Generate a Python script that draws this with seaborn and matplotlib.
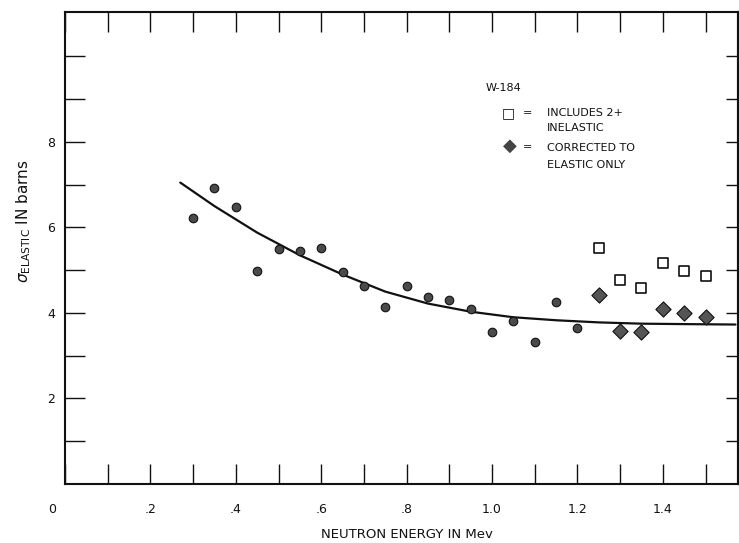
import numpy as np
import pandas as pd
import matplotlib
matplotlib.use("Agg")
import matplotlib.pyplot as plt
import seaborn as sns
from matplotlib.transforms import ScaledTranslation

# ---- data ----
energy_circ = [0.30, 0.35, 0.40, 0.45, 0.50, 0.55, 0.60, 0.65, 0.70, 0.75,
               0.80, 0.85, 0.90, 0.95, 1.00, 1.05, 1.10, 1.15, 1.20]
sigma_circ = [6.22, 6.92, 6.47, 4.99, 5.50, 5.46, 5.51, 4.95, 4.63, 4.15,
              4.62, 4.38, 4.30, 4.09, 3.56, 3.81, 3.31, 4.25, 3.65]

energy_incl = [1.25, 1.30, 1.35, 1.40, 1.45, 1.50]
sigma_incl = [5.53, 4.76, 4.58, 5.16, 4.98, 4.86]

energy_corr = [1.25, 1.30, 1.35, 1.40, 1.45, 1.50]
sigma_corr = [4.42, 3.58, 3.56, 4.10, 4.01, 3.91]

curve_x = [0.27, 0.35, 0.45, 0.55, 0.65, 0.75, 0.85, 0.95, 1.05, 1.15,
           1.25, 1.35, 1.45, 1.57]
curve_y = [7.05, 6.50, 5.88, 5.35, 4.90, 4.50, 4.22, 4.03, 3.90, 3.83,
           3.78, 3.75, 3.74, 3.73]

x_major = [0, 0.2, 0.4, 0.6, 0.8, 1.0, 1.2, 1.4]
x_labels = ["0", ".2", ".4", ".6", ".8", "1.0", "1.2", "1.4"]
x_minor = [0.1, 0.3, 0.5, 0.7, 0.9, 1.1, 1.3, 1.5]
y_major = [2, 4, 6, 8]
y_labels = ["2", "4", "6", "8"]
y_minor = [1, 3, 5, 7, 9, 10]
y_right = [1, 2, 3, 4, 5, 6, 7, 8, 9, 10]

sns.set_style("white")
plt.rcParams["font.family"] = ["DejaVu Sans"]

W, H = 739, 543
fig = plt.figure(figsize=(W / 100, H / 100), dpi=100)
ax = fig.add_axes([65 / W, 1 - 484 / H, (738 - 65) / W, (484 - 12) / H])

df_circ = pd.DataFrame({"E": energy_circ, "S": sigma_circ})
df_incl = pd.DataFrame({"E": energy_incl, "S": sigma_incl})
df_corr = pd.DataFrame({"E": energy_corr, "S": sigma_corr})
df_curve = pd.DataFrame({"E": curve_x, "S": curve_y})

sns.lineplot(data=df_curve, x="E", y="S", ax=ax, color="#111111",
             linewidth=1.6, sort=False, estimator=None, zorder=2)
sns.scatterplot(data=df_circ, x="E", y="S", ax=ax, marker="o", s=38,
                color="#4a4a4a", edgecolor="#111111", linewidth=0.8, zorder=3)
sns.scatterplot(data=df_incl, x="E", y="S", ax=ax, marker="s", s=48,
                facecolor="white", edgecolor="#111111", linewidth=1.2, zorder=3)
sns.scatterplot(data=df_corr, x="E", y="S", ax=ax, marker="D", s=60,
                color="#555555", edgecolor="#111111", linewidth=0.8, zorder=3)

ax.set_xlim(0, 1.576)
ax.set_ylim(0, 11.04)

ax.set_xticks(x_major)
ax.set_xticklabels(x_labels)
ax.set_xticks(x_minor, minor=True)
ax.set_yticks(y_major)
ax.set_yticklabels(y_labels)
ax.set_yticks(y_minor, minor=True)

for which in ("major", "minor"):
    ax.tick_params(axis="both", which=which, direction="in", length=14.5,
                   width=1.0, color="#111111", top=True, bottom=True,
                   left=True, right=False)
ax.tick_params(axis="x", which="major", pad=14, labelsize=9, labelcolor="#111111")
ax.tick_params(axis="y", which="major", pad=7, labelsize=9, labelcolor="#111111")

# shorter inward ticks along the right edge
sec = ax.secondary_yaxis("right")
sec.set_yticks(y_right)
sec.set_yticklabels([])
sec.tick_params(direction="in", length=9, width=1.0, color="#111111", right=True)
sec.spines["right"].set_linewidth(1.5)
sec.spines["right"].set_color("#111111")

# shift the "0" label left like in the reference
lbl0 = ax.get_xticklabels()[0]
lbl0.set_transform(lbl0.get_transform() + ScaledTranslation(-13 / 100, 0, fig.dpi_scale_trans))

for sp in ax.spines.values():
    sp.set_visible(True)
    sp.set_color("#111111")
    sp.set_linewidth(1.5)

ax.set_xlabel("")
ax.set_ylabel("")
fig.text(407 / W, 1 - 534 / H, "NEUTRON ENERGY IN Mev", ha="center", va="center",
         fontsize=9.5, color="#111111")
ax.text(-0.062, (484 - 221) / 472, r"$\sigma_{\mathrm{ELASTIC}}$ IN barns",
        transform=ax.transAxes, rotation=90, ha="center", va="center",
        fontsize=11, color="#111111")

# legend block
tc = "#111111"
ax.text(0.986, 9.26, "W-184", fontsize=8, color=tc, va="center", ha="left")
ax.text(1.037, 8.68, "\u25a1", fontsize=10, color=tc, va="center", ha="center")
ax.text(1.084, 8.68, "=", fontsize=8, color=tc, va="center", ha="center")
ax.text(1.129, 8.68, "INCLUDES 2+", fontsize=8, color=tc, va="center", ha="left")
ax.text(1.129, 8.33, "INELASTIC", fontsize=8, color=tc, va="center", ha="left")
ax.text(1.042, 7.91, "\u25c6", fontsize=13, color="#444444", va="center", ha="center")
ax.text(1.084, 7.88, "=", fontsize=8, color=tc, va="center", ha="center")
ax.text(1.129, 7.86, "CORRECTED TO", fontsize=8, color=tc, va="center", ha="left")
ax.text(1.129, 7.46, "ELASTIC ONLY", fontsize=8, color=tc, va="center", ha="left")

fig.savefig("out.png", dpi=100)
